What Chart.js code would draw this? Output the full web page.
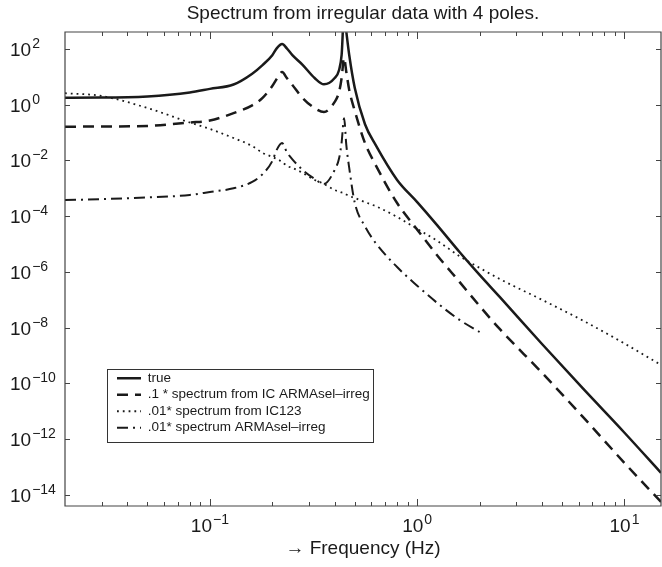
<!DOCTYPE html>
<html>
<head>
<meta charset="utf-8">
<script src="https://cdn.jsdelivr.net/npm/chart.js@4.4.1/dist/chart.umd.min.js"></script>
<style>
    body { margin: 0; background: #fff; }
    #wrap { width: 662px; height: 567px; }
</style>
</head>
<body>
<div id="wrap"><canvas id="spec" width="662" height="567"></canvas></div>
<script>
// frequency grid (Hz)
const freq = [0.02, 0.03, 0.05, 0.08, 0.1, 0.13, 0.16, 0.18, 0.2, 0.21,
    0.223, 0.235, 0.25, 0.28, 0.32, 0.355, 0.4, 0.42, 0.432, 0.444,
    0.455, 0.47, 0.5, 0.56, 0.63, 0.8, 1, 1.25, 1.6, 2,
    2.5, 4, 6.3, 10, 15];

const trueSpec = [1.79, 1.8, 1.98, 2.75, 3.7, 5.3, 13, 27, 60, 105,
    150, 105, 60, 27, 9.1, 5.4, 9.1, 17.6, 61, 2000,
    420, 61, 4, 0.2, 0.036, 2e-3, 3.2e-4, 4.7e-5, 5.2e-6, 7.8e-7,
    1.27e-7, 2.6e-9, 6.6e-11, 1.7e-12, 6.2e-14];

const armaselSpec = [0.163, 0.165, 0.173, 0.23, 0.27, 0.5, 0.95, 1.8, 4.7, 8.4,
    15, 9.1, 5.1, 1.75, 0.76, 0.55, 1.26, 2.9, 9.1, 48,
    15, 3.4, 0.6, 0.042, 6.9e-3, 2.97e-4, 3.3e-5, 3.9e-6, 4.4e-7, 6e-8,
    9e-9, 2.4e-10, 6.3e-12, 1.4e-13, 5.6e-15];

const ic123Spec = [2.6, 2.06, 0.76, 0.23, 0.135, 0.064, 0.033, 0.0185, 0.0134, 0.0113,
    8.9e-3, 6.4e-3, 5.4e-3, 3.6e-3, 2e-3, 1.44e-3, 8.7e-4, 7.7e-4, 7.1e-4, 6.8e-4,
    6.0e-4, 5.3e-4, 4.5e-4, 3.2e-4, 2.3e-4, 9.4e-5, 3.5e-5, 1.3e-5, 3.7e-6, 1.4e-6,
    5.6e-7, 1e-7, 1.8e-8, 2.7e-9, 4.6e-10];

const irregSpec = [3.8e-4, 4.1e-4, 4.7e-4, 5.8e-4, 7.4e-4, 1.0e-3, 1.7e-3, 3.3e-3, 9.5e-3, 0.024,
    0.042, 0.020, 0.011, 4.6e-3, 2.2e-3, 1.44e-3, 4.6e-3, 0.012, 0.045, 0.33,
    0.036, 5.4e-3, 3e-4, 4.3e-5, 1.1e-5, 1.5e-6, 3.2e-7, 7.7e-8, 1.9e-8, 7e-9,
    null, null, null, null, null];

const seriesLabels = ['true', '.1 * spectrum from IC ARMAsel\u2013irreg',
    '.01* spectrum from IC123', '.01* spectrum ARMAsel\u2013irreg'];

// tick labels are 10^exp
const yTickExps = [2, 0, -2, -4, -6, -8, -10, -12, -14];
const xTickExps = [-1, 0, 1];

const FONT = "'Liberation Sans', Arial, Helvetica, sans-serif";
const INK = '#1a1a1a';

function toPoints(vals) {
    return freq.map((f, i) => ({ x: f, y: vals[i] }));
}

// "10" with a raised exponent
function drawPow(ctx, e, x, yBase, center) {
    const exp = e < 0 ? '\u2212' + (-e) : String(e);
    ctx.font = '19px ' + FONT;
    const wb = ctx.measureText('10').width;
    ctx.font = '14px ' + FONT;
    const we = ctx.measureText(exp).width;
    const x0 = center ? x - (wb + we + 1) / 2 : x;
    ctx.font = '19px ' + FONT;
    ctx.fillText('10', x0, yBase);
    ctx.font = '14px ' + FONT;
    ctx.fillText(exp, x0 + wb + 1, yBase - 8);
}

const axesBox = {
    id: 'axesBox',
    afterLayout(chart) {
        // legend sits inside the plot, lower left
        const lg = chart.legend;
        const w = lg.width, h = lg.height;
        lg.left = 114;
        lg.top = 368.5;
        lg.right = lg.left + w;
        lg.bottom = lg.top + h;
    },
    beforeDraw(chart) {
        const ctx = chart.ctx;
        ctx.save();
        ctx.fillStyle = '#fff';
        ctx.fillRect(107, 369, 266, 73);
        ctx.strokeStyle = '#333';
        ctx.lineWidth = 1;
        ctx.strokeRect(107.5, 369.5, 266, 73);
        ctx.restore();
    },
    afterDraw(chart) {
        const { ctx, chartArea: a, scales: { x, y } } = chart;
        const L = Math.round(a.left), R = Math.round(a.right);
        const T = Math.round(a.top), B = Math.round(a.bottom);
        ctx.save();
        ctx.strokeStyle = '#444';
        ctx.lineWidth = 1.2;
        ctx.beginPath();
        ctx.moveTo(L, T); ctx.lineTo(R, T); ctx.lineTo(R, B); ctx.lineTo(L, B); ctx.closePath();
        ctx.stroke();

        // inward ticks
        ctx.lineWidth = 1;
        ctx.beginPath();
        yTickExps.forEach(e => {
            const py = Math.round(y.getPixelForValue(Math.pow(10, e))) + 0.5;
            ctx.moveTo(L, py); ctx.lineTo(L + 5, py);
            ctx.moveTo(R, py); ctx.lineTo(R - 5, py);
        });
        for (let d = -2; d <= 1; d++) {
            for (let m = 1; m <= 9; m++) {
                const v = m * Math.pow(10, d);
                if (v <= x.min || v >= x.max) continue;
                const px = Math.round(x.getPixelForValue(v)) + 0.5;
                const len = m === 1 ? 7 : 4;
                ctx.moveTo(px, B); ctx.lineTo(px, B - len);
                ctx.moveTo(px, T); ctx.lineTo(px, T + len);
            }
        }
        ctx.stroke();

        // tick labels
        ctx.fillStyle = INK;
        ctx.textBaseline = 'alphabetic';
        ctx.textAlign = 'left';
        yTickExps.forEach(e => {
            const py = y.getPixelForValue(Math.pow(10, e));
            drawPow(ctx, e, 10, py + 7, false);
        });
        xTickExps.forEach(e => {
            const px = x.getPixelForValue(Math.pow(10, e));
            drawPow(ctx, e, px, 532, true);
        });
        ctx.restore();
    }
};

const chart = new Chart(document.getElementById('spec'), {
    type: 'line',
    data: {
        datasets: [
            { label: seriesLabels[0], data: toPoints(trueSpec), borderWidth: 2.5 },
            { label: seriesLabels[1], data: toPoints(armaselSpec), borderWidth: 2.5, borderDash: [11, 7] },
            { label: seriesLabels[2], data: toPoints(ic123Spec), borderWidth: 1.8, borderDash: [1.8, 4] },
            { label: seriesLabels[3], data: toPoints(irregSpec), borderWidth: 2, borderDash: [11, 5, 2, 5] }
        ]
    },
    options: {
        responsive: false,
        animation: false,
        devicePixelRatio: 1,
        layout: { padding: { left: 65, right: 1, top: 0, bottom: 0 } },
        elements: {
            point: { radius: 0, hoverRadius: 0 },
            line: { borderColor: INK, fill: false, cubicInterpolationMode: 'monotone' }
        },
        datasets: { line: { clip: 0 } },
        scales: {
            x: { type: 'logarithmic', min: 0.02, max: 15, display: false },
            y: { type: 'logarithmic', min: 4e-15, max: 400, display: false }
        },
        plugins: {
            title: {
                display: true,
                text: 'Spectrum from irregular data with 4 poles.',
                fullSize: false,
                color: INK,
                font: { family: FONT, size: 19, weight: 'normal' },
                padding: { top: 2.6, bottom: 6.8 }
            },
            subtitle: {
                display: true,
                position: 'bottom',
                text: '\u2192 Frequency (Hz)',
                fullSize: false,
                color: INK,
                font: { family: FONT, size: 19, weight: 'normal' },
                padding: { top: 31.6, bottom: 6.6 }
            },
            legend: {
                position: 'chartArea',
                align: 'start',
                labels: {
                    color: INK,
                    font: { family: FONT, size: 13.5 },
                    padding: 3,
                    usePointStyle: true,
                    pointStyleWidth: 24,
                    generateLabels(chart) {
                        return chart.data.datasets.map((ds, i) => ({
                            text: ds.label,
                            strokeStyle: INK,
                            fillStyle: 'rgba(0,0,0,0)',
                            fontColor: INK,
                            lineWidth: ds.borderWidth,
                            lineDash: ds.borderDash || [],
                            pointStyle: 'line',
                            datasetIndex: i
                        }));
                    }
                }
            },
            tooltip: { enabled: false }
        }
    },
    plugins: [axesBox]
});
</script>
</body>
</html>
